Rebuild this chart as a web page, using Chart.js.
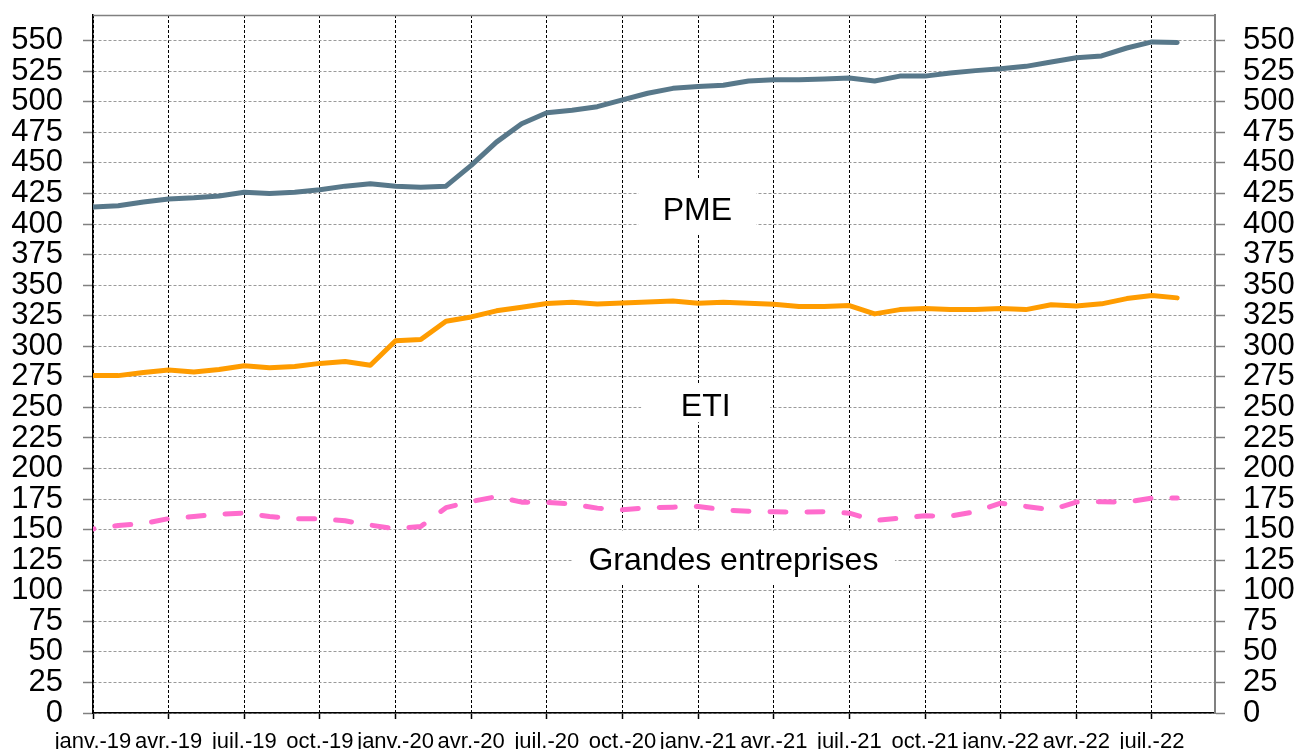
<!DOCTYPE html>
<html>
<head>
<meta charset="utf-8">
<script src="https://cdn.jsdelivr.net/npm/chart.js@4/dist/chart.umd.min.js"></script>
<style>
  html, body { margin: 0; background: #fff; }
</style>
</head>
<body>
<canvas id="graphique" width="1298" height="749"></canvas>
<script>
// mois de janv.-19 a août-22
const mois = ['janv.-19','févr.-19','mars-19','avr.-19','mai-19','juin-19','juil.-19','août-19','sept.-19','oct.-19','nov.-19','déc.-19',
  'janv.-20','févr.-20','mars-20','avr.-20','mai-20','juin-20','juil.-20','août-20','sept.-20','oct.-20','nov.-20','déc.-20',
  'janv.-21','févr.-21','mars-21','avr.-21','mai-21','juin-21','juil.-21','août-21','sept.-21','oct.-21','nov.-21','déc.-21',
  'janv.-22','févr.-22','mars-22','avr.-22','mai-22','juin-22','juil.-22','août-22'];
const etiquettesAxe = ['janv.-19','avr.-19','juil.-19','oct.-19','janv.-20','avr.-20','juil.-20','oct.-20',
  'janv.-21','avr.-21','juil.-21','oct.-21','janv.-22','avr.-22','juil.-22'];
const graduationsY = [0,25,50,75,100,125,150,175,200,225,250,275,300,325,350,375,400,425,450,475,500,525,550];

const pme = [414,415,418,420.5,421.5,423,426,425,426,428,431,433,431,430,431,448,467,482,491,493,496,501.5,507,511,512.5,513.5,517,518,518,518.7,519.5,
  517,521,521,523.5,525.5,527,529,532.5,536,537.5,544,549,548.5];
const eti = [276,276,278.5,280.5,279,281,284,282.5,283.5,286,287.5,284.5,304.5,305.5,320.5,324,329,332,335,336,334.5,335.5,336.3,337,335.2,336,335.2,334.4,332.5,332.5,333.3,
  326.5,330,331,330,330,331,330,334,333,334.7,339,341.5,339.6];
const grandes = [150.5,153.4,155,159,160.8,162.7,163.5,160.8,159,159,157.2,153.7,150.7,152.6,168,173,177,172.5,172.2,171,167.6,166.2,168,168.4,169,166.2,165,164.6,164.4,164.6,163.5,
  157.5,159.4,161.3,161.1,164.6,171.7,169,166.2,172.5,172.8,172.5,175.8,175.8];

// libelles places dans le graphique (x en mois, y en valeur, boite en px)
const libelles = [
  { texte: 'PME', x: 23.97, y: 414, w: 118, h: 56 },
  { texte: 'ETI', x: 24.3, y: 253.7, w: 129, h: 39 },
  { texte: 'Grandes entreprises', x: 25.4, y: 127.8, w: 323, h: 53 }
];

const police = "'Liberation Sans', Arial, sans-serif";
const points = serie => serie.map((v, i) => ({ x: i, y: v }));

const cadreEtLibelles = {
  id: 'cadreEtLibelles',
  afterDraw(chart) {
    const { ctx, chartArea: a, scales } = chart;
    ctx.save();
    ctx.strokeStyle = '#808080';
    ctx.lineWidth = 1.5;
    ctx.beginPath();
    ctx.moveTo(a.left, a.top + 0.5);
    ctx.lineTo(a.right, a.top + 0.5);
    ctx.stroke();

    ctx.font = '32px ' + police;
    ctx.textAlign = 'center';
    ctx.textBaseline = 'middle';
    libelles.forEach(l => {
      const px = scales.x.getPixelForValue(l.x);
      const py = scales.y.getPixelForValue(l.y);
      ctx.fillStyle = '#fff';
      ctx.fillRect(px - l.w / 2, py - l.h / 2, l.w, l.h);
      ctx.fillStyle = '#000';
      ctx.fillText(l.texte, px, py + 4);
    });
    ctx.restore();
  }
};

const axeY = (position) => ({
  type: 'linear',
  position: position,
  min: 0,
  max: 571,
  afterBuildTicks: s => { s.ticks = graduationsY.map(v => ({ value: v })); },
  afterFit: s => {
    s.width = position === 'left' ? 93 : 83;
    s.paddingTop = 0;
    s.paddingBottom = 0;
  },
  ticks: {
    autoSkip: false,
    padding: position === 'left' ? 20 : 18,
    color: '#000',
    font: { family: police, size: 31 }
  },
  grid: {
    display: true,
    drawOnChartArea: position === 'left',
    color: '#9a9a9a',
    lineWidth: 1,
    tickLength: 10,
    tickColor: '#808080',
    tickWidth: 1.5
  },
  border: {
    display: true,
    color: position === 'left' ? '#000' : '#808080',
    width: position === 'left' ? 1.5 : 2,
    dash: [3, 2]
  }
});

new Chart(document.getElementById('graphique'), {
  type: 'line',
  data: {
    datasets: [
      { label: 'PME', data: points(pme), borderColor: '#58788a', borderWidth: 5, pointRadius: 0, tension: 0, borderJoinStyle: 'round', borderCapStyle: 'round' },
      { label: 'ETI', data: points(eti), borderColor: '#ff9c00', borderWidth: 5, pointRadius: 0, tension: 0, borderJoinStyle: 'round', borderCapStyle: 'round' },
      { label: 'Grandes entreprises', data: points(grandes), borderColor: '#ff6ccd', borderWidth: 5, pointRadius: 0, tension: 0,
        borderDash: [16, 21], borderDashOffset: 15, borderJoinStyle: 'round', borderCapStyle: 'round' }
    ]
  },
  options: {
    responsive: false,
    animation: false,
    devicePixelRatio: 1,
    layout: { padding: { top: 15, left: 0, right: 0, bottom: 0 } },
    plugins: { legend: { display: false }, tooltip: { enabled: false } },
    scales: {
      x: {
        type: 'linear',
        min: 0,
        max: 44.5,
        afterBuildTicks: s => { s.ticks = etiquettesAxe.map((_, i) => ({ value: i * 3 })); },
        afterFit: s => {
          s.height = 36;
          s.paddingLeft = 0;
          s.paddingRight = 0;
        },
        ticks: {
          autoSkip: false,
          maxRotation: 0,
          padding: 10,
          color: '#000',
          font: { family: police, size: 22 },
          callback: v => etiquettesAxe[v / 3]
        },
        grid: {
          color: '#000',
          lineWidth: 1,
          tickLength: 6,
          tickColor: '#000',
          tickWidth: 1.5
        },
        border: { display: true, color: '#000', width: 1.5, dash: [3, 2] }
      },
      y: axeY('left'),
      y2: axeY('right')
    }
  },
  plugins: [cadreEtLibelles]
});
</script>
</body>
</html>
